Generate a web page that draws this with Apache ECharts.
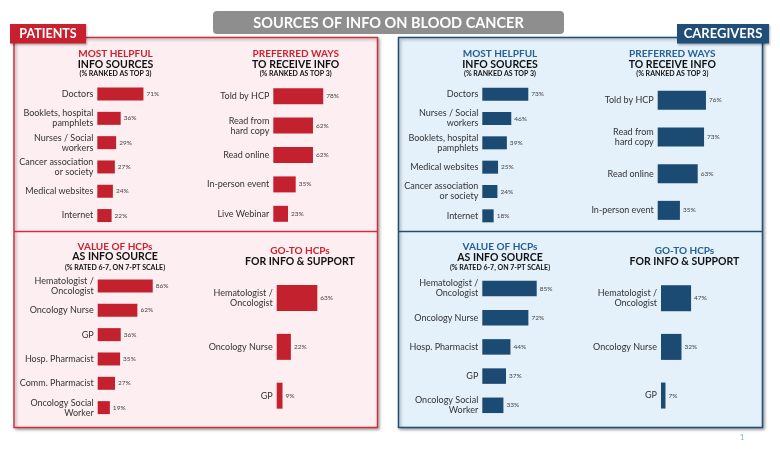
<!DOCTYPE html>
<html><head><meta charset="utf-8">
<script src="https://cdn.jsdelivr.net/npm/echarts@6/dist/echarts.min.js"></script>
<style>html,body{margin:0;padding:0;background:#fff}#c{width:780px;height:449px}</style>
</head><body><div id="c"></div>
<script>
// ---- DATA ----
const pMhCats = ['Doctors','Booklets, hospital\npamphlets','Nurses / Social\nworkers','Cancer association\nor society','Medical websites','Internet'];
const pMhVals = [71,36,29,27,24,22];
const pPwCats = ['Told by HCP','Read from\nhard copy','Read online','In-person event','Live Webinar'];
const pPwVals = [78,62,62,35,23];
const pVhCats = ['Hematologist /\nOncologist','Oncology Nurse','GP','Hosp. Pharmacist','Comm. Pharmacist','Oncology Social\nWorker'];
const pVhVals = [86,62,36,35,27,19];
const pGoCats = ['Hematologist /\nOncologist','Oncology Nurse','GP'];
const pGoVals = [63,22,9];
const cMhCats = ['Doctors','Nurses / Social\nworkers','Booklets, hospital\npamphlets','Medical websites','Cancer association\nor society','Internet'];
const cMhVals = [73,46,39,25,24,18];
const cPwCats = ['Told by HCP','Read from\nhard copy','Read online','In-person event'];
const cPwVals = [76,73,63,35];
const cVhCats = ['Hematologist /\nOncologist','Oncology Nurse','Hosp. Pharmacist','GP','Oncology Social\nWorker'];
const cVhVals = [85,72,44,37,33];
const cGoCats = ['Hematologist /\nOncologist','Oncology Nurse','GP'];
const cGoVals = [47,32,7];

// ---- LAYOUT ----
const RED = '#c4212e', BLUE = '#1b4a73';
const FONT = 'Lato';
const panels = [
  {cats:pMhCats, vals:pMhVals, left:97.3, top:81.9, width:65, height:145.8, bw:13, color:RED},
  {cats:pPwCats, vals:pPwVals, left:273.3, top:81.5, width:64, height:147, bw:16, color:RED},
  {cats:pVhCats, vals:pVhVals, left:97.7, top:273.8, width:64, height:146, bw:13, color:RED},
  {cats:pGoCats, vals:pGoVals, left:276.7, top:273.6, width:64.5, height:146.5, bw:26, color:RED},
  {cats:cMhCats, vals:cMhVals, left:482.3, top:82, width:63, height:146, bw:13, color:BLUE},
  {cats:cPwCats, vals:cPwVals, left:657.7, top:82, width:63.5, height:146.7, bw:19, color:BLUE},
  {cats:cVhCats, vals:cVhVals, left:482.3, top:273.9, width:64, height:146, bw:15.5, color:BLUE},
  {cats:cGoCats, vals:cGoVals, left:661, top:273.9, width:64, height:146, bw:26, color:BLUE}
];

const grid = [], xAxis = [], yAxis = [], series = [];
panels.forEach((p,i)=>{
  grid.push({left:p.left, top:p.top, width:p.width, height:p.height, containLabel:false});
  xAxis.push({gridIndex:i, type:'value', min:0, max:100, show:false});
  yAxis.push({gridIndex:i, type:'category', inverse:true, data:p.cats, z:6,
    axisLine:{show:false}, axisTick:{show:false}, splitLine:{show:false},
    axisLabel:{interval:0, margin:4, fontSize:9, lineHeight:10, color:'#333', fontFamily:FONT, align:'right'}});
  series.push({type:'bar', xAxisIndex:i, yAxisIndex:i, data:p.vals, barWidth:p.bw,
    itemStyle:{color:p.color}, silent:true, z:6,
    label:{show:true, position:'right', distance:3, formatter:'{c}%', fontSize:6.5, color:'#444', fontFamily:FONT}});
});

function txt(x,y,s,size,color,weight){
  return {type:'text', x:x, y:y, z:10, style:{text:s, fontSize:size, fill:color, fontWeight:weight||'bold', fontFamily:FONT, textAlign:'center', textVerticalAlign:'middle'}};
}
const TRED = '#d0202f', TBLUE = '#245f96', TBLK = '#111';
const graphic = [
  {type:'rect', z:1, shape:{x:14, y:37.5, width:363.5, height:390}, style:{fill:'#fdeff1', stroke:'#d0303c', lineWidth:1.5, shadowBlur:3, shadowOffsetX:1.5, shadowOffsetY:1.5, shadowColor:'rgba(0,0,0,0.35)'}},
  {type:'line', z:2, shape:{x1:14, y1:231.5, x2:377.5, y2:231.5}, style:{stroke:'#d0303c', lineWidth:1.5}},
  {type:'rect', z:1, shape:{x:398.5, y:37.5, width:364, height:390}, style:{fill:'#e4f0fa', stroke:'#1f4e79', lineWidth:1.5, shadowBlur:3, shadowOffsetX:1.5, shadowOffsetY:1.5, shadowColor:'rgba(0,0,0,0.35)'}},
  {type:'line', z:2, shape:{x1:398.5, y1:231.5, x2:762.5, y2:231.5}, style:{stroke:'#1f4e79', lineWidth:1.5}},
  {type:'rect', z:5, shape:{x:213, y:11, width:351, height:23, r:4}, style:{fill:'#8e8e8e'}},
  txt(388.5, 23, 'SOURCES OF INFO ON BLOOD CANCER', 14.5, '#fff'),
  {type:'rect', z:5, shape:{x:10, y:24, width:76, height:19.5}, style:{fill:'#c8202f', shadowBlur:2, shadowOffsetX:1, shadowOffsetY:1, shadowColor:'rgba(0,0,0,0.3)'}},
  txt(48, 34, 'PATIENTS', 12.5, '#fff'),
  {type:'rect', z:5, shape:{x:677, y:24, width:92, height:19.5}, style:{fill:'#1f4e79', shadowBlur:2, shadowOffsetX:1, shadowOffsetY:1, shadowColor:'rgba(0,0,0,0.3)'}},
  txt(723, 34, 'CAREGIVERS', 13, '#fff'),
  // patient titles
  txt(115.5, 53.5, 'MOST HELPFUL', 10, TRED), txt(115.5, 64.7, 'INFO SOURCES', 10.5, TBLK), txt(115.5, 74, '(% RANKED AS TOP 3)', 7, TBLK),
  txt(295.7, 53.5, 'PREFERRED WAYS', 10, TRED), txt(295.7, 64.7, 'TO RECEIVE INFO', 10.5, TBLK), txt(295.7, 74, '(% RANKED AS TOP 3)', 7, TBLK),
  txt(115, 246.3, 'VALUE OF HCPs', 10, TRED), txt(115, 257, 'AS INFO SOURCE', 10.5, TBLK), txt(115, 267.3, '(% RATED 6-7, ON 7-PT SCALE)', 7, TBLK),
  txt(300, 251, 'GO-TO HCPs', 10, TRED), txt(300, 262, 'FOR INFO & SUPPORT', 10.5, TBLK),
  // caregiver titles
  txt(500, 53.7, 'MOST HELPFUL', 10, TBLUE), txt(500, 64.7, 'INFO SOURCES', 10.5, TBLK), txt(500, 74, '(% RANKED AS TOP 3)', 7, TBLK),
  txt(672.3, 53.7, 'PREFERRED WAYS', 10, TBLUE), txt(672.3, 64.7, 'TO RECEIVE INFO', 10.5, TBLK), txt(672.3, 74, '(% RANKED AS TOP 3)', 7, TBLK),
  txt(500, 247, 'VALUE OF HCPs', 10, TBLUE), txt(500, 258, 'AS INFO SOURCE', 10.5, TBLK), txt(500, 267.7, '(% RATED 6-7, ON 7-PT SCALE)', 7, TBLK),
  txt(684.5, 251, 'GO-TO HCPs', 10, TBLUE), txt(684.5, 262, 'FOR INFO & SUPPORT', 10.5, TBLK),
  txt(742, 437, '1', 8, '#8ab4d8', 'normal')
];

const chart = echarts.init(document.getElementById('c'), null, {renderer:'canvas'});
chart.setOption({backgroundColor:'#fff', animation:false, grid, xAxis, yAxis, series, graphic});
</script></body></html>
